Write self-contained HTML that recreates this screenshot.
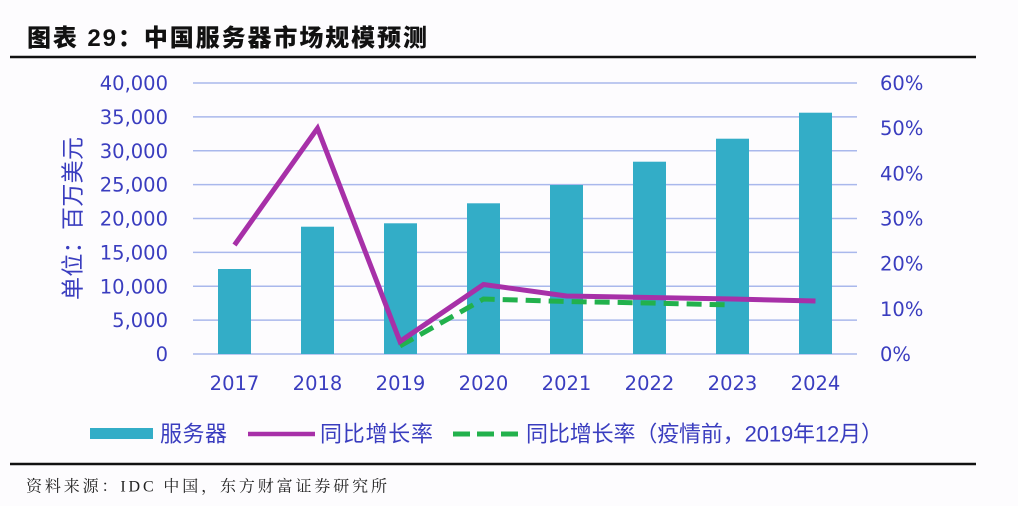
<!DOCTYPE html>
<html>
<head>
<meta charset="utf-8">
<style>
  html, body { margin:0; padding:0; background:#fdfcfe; }
  svg { display:block; }
</style>
</head>
<body>
<svg width="1018" height="506" viewBox="0 0 1018 506" xmlns="http://www.w3.org/2000/svg">
  <rect x="0" y="0" width="1018" height="506" fill="#fdfcfe"/>

  <!-- Title -->
  <text x="27" y="46" font-family="'Liberation Sans','Noto Sans CJK SC',sans-serif" font-weight="900" font-size="24" fill="#111" textLength="400" lengthAdjust="spacing">图表 29：中国服务器市场规模预测</text>
  <line x1="10" y1="57" x2="976" y2="57" stroke="#111" stroke-width="2.5"/>

  <!-- Gridlines -->
  <g stroke="#a9b8ec" stroke-width="1.5">
    <line x1="193" y1="83" x2="857" y2="83"/>
    <line x1="193" y1="116.9" x2="857" y2="116.9"/>
    <line x1="193" y1="150.75" x2="857" y2="150.75"/>
    <line x1="193" y1="184.6" x2="857" y2="184.6"/>
    <line x1="193" y1="218.5" x2="857" y2="218.5"/>
    <line x1="193" y1="252.4" x2="857" y2="252.4"/>
    <line x1="193" y1="286.25" x2="857" y2="286.25"/>
    <line x1="193" y1="320.1" x2="857" y2="320.1"/>
    <line x1="193" y1="354" x2="857" y2="354"/>
  </g>

  <!-- Bars -->
  <g fill="#33adc7">
    <rect x="218" y="269" width="33" height="85"/>
    <rect x="301" y="226.7" width="33" height="127.3"/>
    <rect x="384" y="223.3" width="33" height="130.7"/>
    <rect x="467" y="203.3" width="33" height="150.7"/>
    <rect x="550" y="185" width="33" height="169"/>
    <rect x="633" y="161.7" width="33" height="192.3"/>
    <rect x="716" y="138.7" width="33" height="215.3"/>
    <rect x="799" y="112.7" width="33" height="241.3"/>
  </g>

  <!-- Green dashed line -->
  <polyline points="400,346 483.5,299 566.5,301.5 649.5,303 732.5,305" fill="none" stroke="#22b14c" stroke-width="5" stroke-dasharray="15,8"/>

  <!-- Magenta line -->
  <polyline points="234.5,245 317.5,128.3 400,341.5 483.5,284.5 566.5,296 649.5,297.5 732.5,299 815.5,301" fill="none" stroke="#a730a8" stroke-width="5" stroke-linejoin="miter"/>

  <!-- Left axis labels -->
  <g font-family="'DejaVu Sans',sans-serif" font-size="19.5" fill="#3a3dbf" text-anchor="end">
    <text x="168" y="90">40,000</text>
    <text x="168" y="123.9">35,000</text>
    <text x="168" y="157.75">30,000</text>
    <text x="168" y="191.6">25,000</text>
    <text x="168" y="225.5">20,000</text>
    <text x="168" y="259.4">15,000</text>
    <text x="168" y="293.25">10,000</text>
    <text x="168" y="327.1">5,000</text>
    <text x="168" y="361">0</text>
  </g>

  <!-- Right axis labels -->
  <g font-family="'DejaVu Sans',sans-serif" font-size="19.5" fill="#3a3dbf" text-anchor="start">
    <text x="880" y="90">60%</text>
    <text x="880" y="135.2">50%</text>
    <text x="880" y="180.3">40%</text>
    <text x="880" y="225.5">30%</text>
    <text x="880" y="270.7">20%</text>
    <text x="880" y="315.8">10%</text>
    <text x="880" y="361">0%</text>
  </g>

  <!-- X axis labels -->
  <g font-family="'DejaVu Sans',sans-serif" font-size="19.5" fill="#3a3dbf" text-anchor="middle">
    <text x="234.5" y="390">2017</text>
    <text x="317.5" y="390">2018</text>
    <text x="400.5" y="390">2019</text>
    <text x="483.5" y="390">2020</text>
    <text x="566.5" y="390">2021</text>
    <text x="649.5" y="390">2022</text>
    <text x="732.5" y="390">2023</text>
    <text x="815.5" y="390">2024</text>
  </g>

  <!-- Y axis title -->
  <text transform="translate(72.5,218.5) rotate(-90)" x="0" y="0" text-anchor="middle" dominant-baseline="central" font-family="'Liberation Sans','Noto Sans CJK SC',sans-serif" font-size="23" fill="#3a3dbf" textLength="163" lengthAdjust="spacing">单位：百万美元</text>

  <!-- Legend -->
  <rect x="90" y="428" width="63" height="11" fill="#33adc7"/>
  <text x="160" y="434" dominant-baseline="central" font-family="'Liberation Sans','Noto Sans CJK SC',sans-serif" font-size="22" fill="#3a3dbf" textLength="67" lengthAdjust="spacing">服务器</text>
  <line x1="248" y1="434" x2="315" y2="434" stroke="#a730a8" stroke-width="4.5"/>
  <text x="320" y="434" dominant-baseline="central" font-family="'Liberation Sans','Noto Sans CJK SC',sans-serif" font-size="22" fill="#3a3dbf" textLength="113" lengthAdjust="spacing">同比增长率</text>
  <g fill="#22b14c">
    <rect x="453" y="431.5" width="17" height="5"/>
    <rect x="477" y="431.5" width="17" height="5"/>
    <rect x="501" y="431.5" width="17" height="5"/>
  </g>
  <text x="526" y="434" dominant-baseline="central" font-family="'Liberation Sans','Noto Sans CJK SC',sans-serif" font-size="22" fill="#3a3dbf" textLength="357" lengthAdjust="spacing">同比增长率（疫情前，2019年12月）</text>

  <!-- Source -->
  <line x1="10" y1="464" x2="976" y2="464" stroke="#111" stroke-width="2.5"/>
  <text x="26" y="487" dominant-baseline="central" font-family="'Liberation Serif','Noto Serif CJK SC',serif" font-size="16" fill="#222" textLength="361" lengthAdjust="spacing">资料来源：IDC 中国，东方财富证券研究所</text>
</svg>
</body>
</html>
